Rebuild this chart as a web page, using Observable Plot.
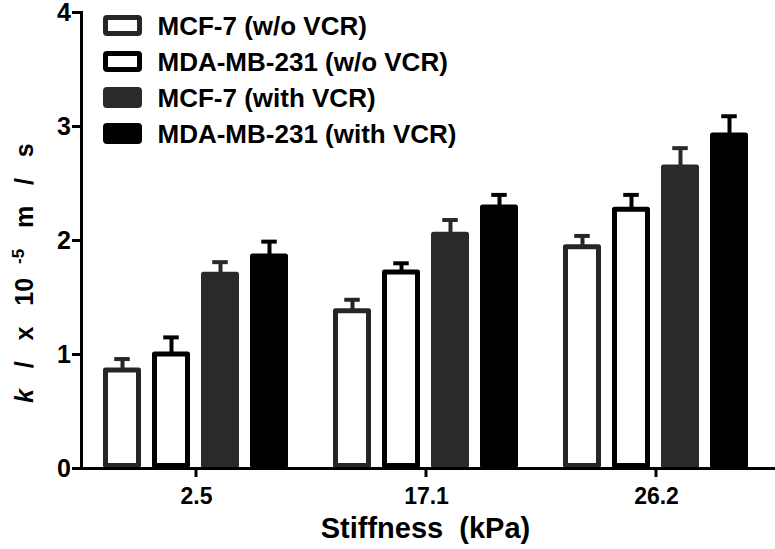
<!DOCTYPE html>
<html>
<head>
<meta charset="utf-8">
<script src="https://cdn.jsdelivr.net/npm/d3@7"></script>
<script src="https://cdn.jsdelivr.net/npm/@observablehq/plot@0.6"></script>
<style>
  html, body { margin: 0; padding: 0; background: #fff; }
  #wrap { position: relative; width: 775px; height: 549px; overflow: hidden;
          font-family: "Liberation Sans", Arial, sans-serif; font-weight: bold; color: #000; }
  #legend { position: absolute; left: 102.5px; top: 7.5px; }
  .row { display: flex; align-items: center; height: 36px; }
  .sw { box-sizing: border-box; width: 39px; height: 21px; border: 5px solid #000; border-radius: 4px; margin-right: 16px; }
  .lab { font-size: 26px; line-height: 26px; white-space: pre; }
  #xtitle { position: absolute; left: 0; width: 851px; text-align: center; top: 512px; font-size: 29px; white-space: pre; line-height: 32px; }
</style>
</head>
<body>
<div id="wrap"></div>
<script>
// ---- data ----
const groups = ["2.5", "17.1", "26.2"];
const seriesNames = ["MCF-7 (w/o VCR)", "MDA-MB-231 (w/o VCR)", "MCF-7 (with VCR)", "MDA-MB-231 (with VCR)"];
const mcf7Without = [0.86, 1.38, 1.94];
const mdaWithout = [1.00, 1.72, 2.27];
const mcf7With = [1.70, 2.05, 2.64];
const mdaWith = [1.86, 2.29, 2.92];
const mcf7WithoutErr = [0.10, 0.10, 0.10];
const mdaWithoutErr = [0.15, 0.08, 0.13];
const mcf7WithErr = [0.11, 0.13, 0.17];
const mdaWithErr = [0.13, 0.11, 0.17];
const yTicks = [0, 1, 2, 3, 4];
const fillColors = ["#ffffff", "#ffffff", "#2a2a2a", "#000000"];
const strokeColors = ["#262626", "#000000", "#2a2a2a", "#000000"];

const values = [mcf7Without, mdaWithout, mcf7With, mdaWith];
const errors = [mcf7WithoutErr, mdaWithoutErr, mcf7WithErr, mdaWithErr];
const rows = [];
groups.forEach((g, gi) => seriesNames.forEach((s, si) => rows.push({
  group: g, series: s, k: values[si][gi], err: errors[si][gi],
  fill: fillColors[si], stroke: strokeColors[si]
})));

const plot = Plot.plot({
  width: 775, height: 549,
  marginLeft: 80, marginRight: 4, marginTop: 12, marginBottom: 81,
  style: {fontFamily: "Liberation Sans, Arial, sans-serif", fontWeight: "bold", color: "#000", background: "transparent", overflow: "visible"},
  fx: {domain: groups, padding: 0, axis: null},
  x: {domain: seriesNames, paddingInner: 0.219, paddingOuter: 0.447, axis: null},
  y: {domain: [0, 4]},
  marks: [
    Plot.ruleX(rows, {fx: "group", x: "series", y1: "k", y2: d => d.k + d.err, stroke: "stroke", strokeWidth: 4}),
    Plot.tickY(rows, {fx: "group", x: "series", y: d => d.k + d.err, stroke: "stroke", strokeWidth: 4, inset: 11.25}),
    Plot.barY(rows, {fx: "group", x: "series", y: "k", fill: "fill", stroke: "stroke", strokeWidth: 5,
      insetLeft: 2.5, insetRight: 2.5, insetBottom: 2.5, strokeLinejoin: "round"}),
    Plot.ruleY([0], {strokeWidth: 3, insetRight: -4}),
    Plot.frame({anchor: "left", facetAnchor: "left", strokeWidth: 3}),
    Plot.axisY({anchor: "left", ticks: yTicks, tickFormat: d3.format("d"), tickSize: 9, tickPadding: 1.5,
      strokeWidth: 3, fontSize: 25, fontWeight: "bold", label: null}),
    // category labels under each facet
    Plot.text(groups, {fx: d => d, text: d => d, frameAnchor: "bottom", lineAnchor: "top", dy: 19,
      fontSize: 23, fontWeight: "bold", fill: "#000"})
  ]
});

const wrap = document.getElementById("wrap");
wrap.appendChild(plot);
const svg = d3.select(plot);

// category tick marks at the centre of each facet band, from Plot's own fx and y scales
const fxScale = plot.scale("fx");
const y0 = plot.scale("y").apply(0);
const bw = fxScale.bandwidth || 0;
const tickG = svg.append("g").attr("stroke", "#000").attr("stroke-width", 3);
groups.forEach(g => {
  const cx = fxScale.apply(g) + bw / 2;
  if (!isFinite(cx)) return;
  tickG.append("line")
    .attr("x1", cx).attr("x2", cx)
    .attr("y1", y0).attr("y2", y0 + 9);
});

// y-axis title (rotated, with italic k and superscript exponent)
const yt = svg.append("text")
  .attr("transform", "translate(33,403) rotate(-90)")
  .attr("text-anchor", "start")
  .attr("font-size", 25)
  .attr("font-weight", "bold")
  .attr("fill", "#000")
  .attr("xml:space", "preserve")
  .style("white-space", "pre");
yt.append("tspan").attr("font-style", "italic").text("k");
yt.append("tspan").text("   /   x   10  ");
yt.append("tspan").attr("font-size", 17).attr("dy", -9).text("-5");
yt.append("tspan").attr("dy", 9).text("   m   /   s");

// legend
const legend = document.createElement("div");
legend.id = "legend";
seriesNames.forEach((s, i) => {
  const row = document.createElement("div");
  row.className = "row";
  const sw = document.createElement("div");
  sw.className = "sw";
  sw.style.background = fillColors[i];
  sw.style.borderColor = strokeColors[i];
  const lab = document.createElement("span");
  lab.className = "lab";
  lab.textContent = s;
  row.appendChild(sw);
  row.appendChild(lab);
  legend.appendChild(row);
});
wrap.appendChild(legend);

// x-axis title
const xt = document.createElement("div");
xt.id = "xtitle";
xt.textContent = "Stiffness  (kPa)";
wrap.appendChild(xt);
</script>
</body>
</html>
